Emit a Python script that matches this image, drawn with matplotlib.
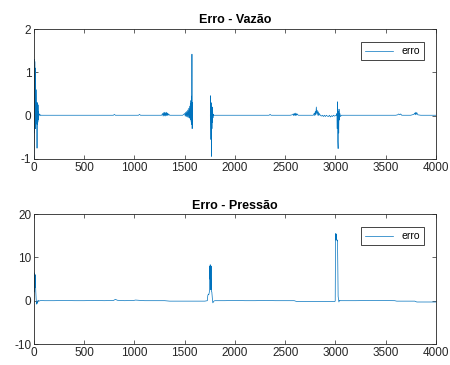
import numpy as np
import matplotlib
matplotlib.use('Agg')
import matplotlib.pyplot as plt

# erro de vazao
x_vaz = [0, 2, 4, 6, 8, 10, 12, 14, 16, 18, 20, 22, 24, 26, 28, 30, 32, 34, 36, 38, 40, 42, 44, 46, 48, 50,
         55, 60, 65, 70, 80, 90, 100,
         150, 200, 250, 300, 350, 400, 450, 500, 550, 600, 650, 700, 750, 790, 800, 810, 850, 900, 950, 1000,
         1040, 1050, 1060, 1100, 1150, 1200, 1250,
         1270, 1280, 1285, 1290, 1295, 1300, 1305, 1310, 1315, 1320, 1325, 1330, 1335, 1340, 1350, 1400, 1450, 1480,
         1490, 1500, 1505, 1510, 1515, 1520, 1525, 1530, 1535, 1540, 1545, 1550, 1553, 1556, 1559, 1562, 1565,
         1568, 1570, 1572, 1574, 1576, 1578, 1580,
         1755, 1757, 1759, 1761, 1763, 1765, 1767, 1769, 1771, 1773, 1775, 1778, 1781, 1785, 1790, 1800,
         1850, 1900, 1950, 2000, 2050, 2100, 2150, 2200, 2250, 2300, 2340, 2350, 2360, 2400, 2450, 2500, 2550,
         2570, 2580, 2585, 2590, 2595, 2600, 2605, 2610, 2615, 2620, 2630, 2650, 2700, 2750, 2780,
         2790, 2795, 2800, 2805, 2810, 2815, 2820, 2825, 2830, 2835, 2840, 2850,
         2860, 2870, 2880, 2890, 2900, 2910, 2920, 2930, 2940, 2950, 2960, 2970, 2980, 2990, 3000, 3010,
         3015, 3018, 3021, 3024, 3027, 3030, 3033, 3036, 3040, 3045, 3050, 3060,
         3100, 3150, 3200, 3250, 3300, 3350, 3400, 3450, 3500, 3550, 3600, 3620, 3630, 3640, 3650, 3660,
         3680, 3700, 3750, 3780, 3790, 3795, 3800, 3805, 3810, 3820, 3850, 3900, 3950, 4000]
y_vaz = [-1.0, 0.3, 1.3, -0.4, 1.25, 0.2, 1.1, -0.3, 0.9, -0.2, 0.6, 0.1, 0.3, -0.1, 0.2, -0.75, 0.1, -0.2,
         0.3, -0.15, 0.25, -0.1, 0.1, -0.05, 0.05, 0.02,
         0.03, 0.0, 0.02, 0.01, 0.01, 0.01, 0.01,
         0.01, 0.01, 0.01, 0.01, 0.01, 0.01, 0.01, 0.01, 0.01, 0.01, 0.01, 0.01, 0.01, 0.01, 0.03, 0.01, 0.01,
         0.01, 0.01, 0.01,
         0.01, 0.03, 0.01, 0.01, 0.01, 0.01, 0.01,
         0.01, 0.05, -0.01, 0.07, 0.0, 0.08, -0.01, 0.07, 0.0, 0.08, 0.0, 0.06, 0.01, 0.04, 0.01, 0.01, 0.01, 0.01,
         0.03, 0.05, -0.01, 0.08, -0.02, 0.1, -0.03, 0.13, -0.04, 0.17, -0.05, 0.22, -0.06, 0.28, -0.1, 0.35,
         -0.15, 0.45, -0.2, 1.42, -0.3, 0.3, 0.0, np.nan,
         0.0, 0.46, -0.1, -0.55, 0.3, -0.4, -0.94, 0.1, -0.3, 0.2, -0.15, 0.1, -0.05, 0.03, 0.01, 0.01,
         0.01, 0.01, 0.01, 0.01, 0.01, 0.01, 0.01, 0.01, 0.01, 0.01, 0.01, 0.03, 0.01, 0.01, 0.01, 0.01, 0.01,
         0.02, 0.04, 0.0, 0.05, 0.01, 0.06, 0.0, 0.05, 0.01, 0.04, 0.01, 0.01, 0.01, 0.01, 0.01,
         0.06, 0.0, 0.1, 0.02, 0.2, 0.05, 0.12, 0.01, 0.09, 0.0, 0.05, 0.01,
         -0.01, 0.01, -0.02, 0.01, -0.02, 0.01, -0.01, -0.02, 0.01, -0.03, 0.0, -0.02, 0.01, -0.01, 0.0, 0.01,
         0.05, -0.3, 0.32, -0.6, -0.76, 0.1, -0.4, 0.15, -0.1, 0.05, -0.02, 0.01,
         0.01, 0.01, 0.01, 0.01, 0.01, 0.01, 0.01, 0.01, 0.01, 0.01, 0.01, 0.02, 0.04, 0.02, 0.04, 0.01,
         0.01, 0.01, 0.01, 0.03, 0.06, 0.02, 0.08, 0.03, 0.07, 0.02, 0.01, 0.01, 0.01, 0.01]

# erro de pressao
x_pre = [0, 3, 6, 9, 12, 15, 18, 21, 24, 27, 30, 35, 40, 50, 60, 80, 100,
         200, 300, 400, 500, 600, 700, 790, 810, 830, 900, 990, 1010, 1100, 1200, 1300, 1350, 1400, 1500,
         1600, 1700, 1725, 1730, 1735, 1740, 1745, 1748, 1751, 1754, 1757, 1760, 1763, 1766, 1770, 1775,
         1780, 1790, 1800,
         1900, 2000, 2100, 2200, 2300, 2400, 2500, 2590, 2610, 2700, 2800, 2900,
         2990, 2998, 3000, 3003, 3006, 3009, 3012, 3015, 3018, 3021, 3024, 3027, 3030, 3035, 3040, 3050,
         3200, 3400, 3590, 3610, 3700, 3790, 3810, 3900, 4000]
y_pre = [6.5, 2.0, 6.3, 3.0, 6.0, 4.0, 2.0, 0.5, -0.5, -0.8, -0.3, -0.6, 0.1, -0.1, 0.0, 0.05, 0.0,
         0.0, 0.05, 0.0, 0.0, 0.05, 0.0, 0.05, 0.3, 0.1, 0.0, 0.05, 0.15, 0.0, 0.0, 0.0, -0.1, -0.1, -0.1,
         -0.1, -0.1, 0.0, 1.2, 1.5, 1.4, 2.0, 8.0, 5.0, 8.3, 7.5, 2.5, 8.0, 2.2, 2.0, 0.5,
         -0.5, -0.1, 0.0,
         0.0, 0.05, 0.0, 0.0, 0.05, 0.0, 0.0, 0.0, -0.15, -0.15, -0.2, -0.15,
         -0.2, -0.1, 10.0, 15.5, 14.0, 15.4, 14.2, 14.0, 13.8, 14.0, 8.0, 1.0, 0.5, -0.3, 0.1, 0.0,
         0.0, 0.05, 0.0, -0.1, -0.1, -0.1, -0.3, -0.3, -0.3]

titulos = ['Erro - Vazão', 'Erro - Pressão']
ylims = [(-1, 2), (-10, 20)]
yticks = [[-1, 0, 1, 2], [-10, 0, 10, 20]]

cor = '#0072BD'
eixo = '#262626'
plt.rcParams['font.family'] = ['Liberation Sans', 'DejaVu Sans']
plt.rcParams['axes.unicode_minus'] = False

fig = plt.figure(figsize=(4.5, 3.65), dpi=100)
ax1 = fig.add_axes([0.0756, 0.5644, 0.893, 0.356])
ax2 = fig.add_axes([0.0756, 0.0575, 0.893, 0.356])

series = [(x_vaz, y_vaz), (x_pre, y_pre)]
for ax, (x, y), tit, yl, yt in zip([ax1, ax2], series, titulos, ylims, yticks):
    ax.plot(x, y, color=cor, linewidth=0.5, label='erro')
    ax.set_xlim(0, 4000)
    ax.set_ylim(*yl)
    ax.set_xticks(range(0, 4001, 500))
    ax.set_yticks(yt)
    ax.set_title(tit, fontsize=9, fontweight='bold', color='black', pad=4)
    ax.tick_params(direction='in', length=3, width=0.5, top=True, right=True,
                   labelsize=8.5, colors=eixo, pad=2)
    for s in ax.spines.values():
        s.set_color(eixo)
        s.set_linewidth(0.6)
    leg = ax.legend(loc='upper right', bbox_to_anchor=(0.97, 0.9), borderaxespad=0,
                    fontsize=7.5, fancybox=False, framealpha=1, edgecolor=eixo,
                    handlelength=2.7, borderpad=0.4)
    leg.get_frame().set_linewidth(0.6)

plt.savefig('out.png', dpi=100)
